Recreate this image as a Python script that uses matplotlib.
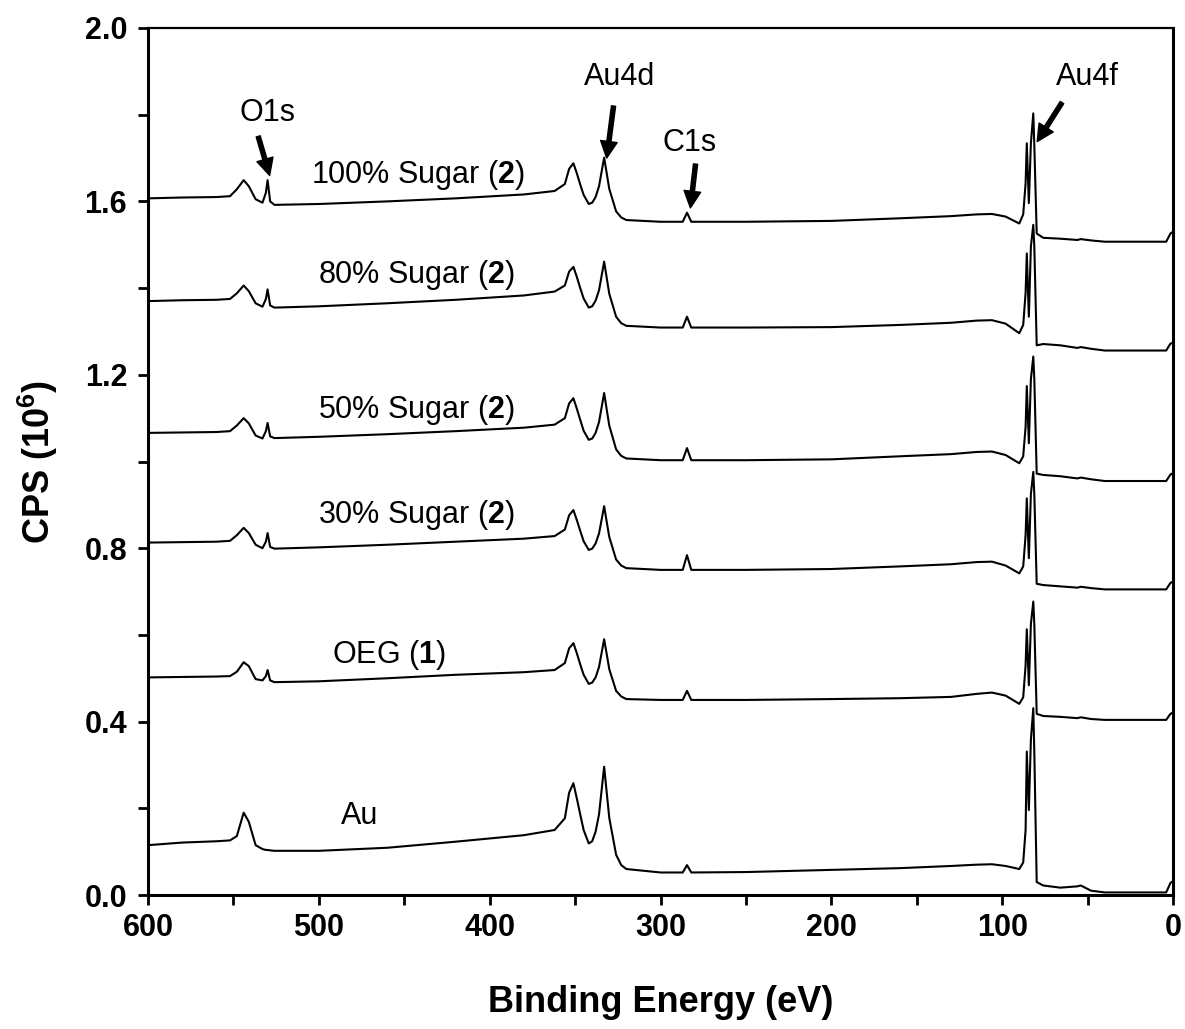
import numpy as np
import matplotlib
matplotlib.use("Agg")
import matplotlib.pyplot as plt

plt.rcParams['font.family'] = ['Liberation Sans', 'DejaVu Sans']
plt.rcParams['mathtext.fontset'] = 'custom'
plt.rcParams['mathtext.rm'] = 'Liberation Sans'
plt.rcParams['mathtext.bf'] = 'Liberation Sans:bold'

# binding energy grid (eV) shared by all spectra
energia = [600, 580, 560, 552, 548, 544, 541, 537, 533, 531,
           530, 528.5, 526, 500, 460, 420, 380, 362, 356, 353.5,
           351, 349, 347, 345, 342, 340, 338, 336, 333, 331.5,
           330, 326, 323, 320, 300, 287, 284.5, 282, 250, 200,
           160, 130, 115, 106, 98, 90, 87.7, 86.3, 85.6, 84.4,
           83.2, 81.8, 81.2, 79.8, 76, 66, 56, 54, 48, 40,
           20, 4, 1.5, 0]

# CPS (10^6) values
seker100 = [1.607, 1.609, 1.610, 1.612, 1.628, 1.649, 1.635, 1.605, 1.597, 1.620,
            1.649, 1.600, 1.592, 1.594, 1.600, 1.607, 1.616, 1.624, 1.640, 1.675,
            1.688, 1.665, 1.639, 1.615, 1.594, 1.597, 1.610, 1.635, 1.701, 1.665,
            1.629, 1.577, 1.563, 1.557, 1.553, 1.553, 1.574, 1.553, 1.553, 1.555,
            1.561, 1.566, 1.570, 1.571, 1.565, 1.549, 1.570, 1.642, 1.734, 1.596,
            1.734, 1.803, 1.730, 1.526, 1.516, 1.514, 1.511, 1.513, 1.510, 1.507,
            1.507, 1.507, 1.526, 1.530]
seker80 = [1.370, 1.372, 1.373, 1.375, 1.388, 1.406, 1.393, 1.365, 1.357, 1.375,
           1.397, 1.360, 1.355, 1.358, 1.365, 1.373, 1.383, 1.392, 1.406, 1.438,
           1.449, 1.426, 1.400, 1.376, 1.355, 1.358, 1.371, 1.395, 1.461, 1.424,
           1.387, 1.334, 1.319, 1.313, 1.309, 1.309, 1.334, 1.309, 1.309, 1.310,
           1.315, 1.320, 1.325, 1.326, 1.318, 1.296, 1.315, 1.389, 1.480, 1.334,
           1.496, 1.546, 1.496, 1.268, 1.271, 1.268, 1.262, 1.264, 1.260, 1.256,
           1.256, 1.256, 1.272, 1.274]
seker50 = [1.066, 1.067, 1.068, 1.070, 1.083, 1.100, 1.088, 1.060, 1.053, 1.070,
           1.089, 1.058, 1.054, 1.057, 1.063, 1.070, 1.078, 1.085, 1.100, 1.134,
           1.146, 1.122, 1.096, 1.071, 1.050, 1.053, 1.066, 1.091, 1.158, 1.120,
           1.083, 1.028, 1.013, 1.007, 1.003, 1.003, 1.031, 1.003, 1.003, 1.005,
           1.012, 1.017, 1.022, 1.023, 1.015, 0.996, 1.012, 1.080, 1.174, 1.042,
           1.190, 1.242, 1.190, 0.972, 0.969, 0.966, 0.961, 0.963, 0.959, 0.955,
           0.955, 0.955, 0.970, 0.973]
seker30 = [0.813, 0.814, 0.815, 0.817, 0.830, 0.847, 0.835, 0.808, 0.800, 0.815,
           0.835, 0.803, 0.799, 0.802, 0.808, 0.815, 0.822, 0.828, 0.843, 0.876,
           0.888, 0.865, 0.840, 0.816, 0.796, 0.799, 0.811, 0.834, 0.897, 0.861,
           0.826, 0.774, 0.760, 0.754, 0.750, 0.750, 0.784, 0.750, 0.750, 0.752,
           0.758, 0.763, 0.768, 0.769, 0.760, 0.742, 0.758, 0.830, 0.915, 0.777,
           0.925, 0.976, 0.925, 0.718, 0.715, 0.712, 0.709, 0.711, 0.708, 0.705,
           0.705, 0.705, 0.720, 0.723]
oeg = [0.502, 0.503, 0.504, 0.505, 0.515, 0.537, 0.528, 0.498, 0.495, 0.505,
       0.519, 0.495, 0.491, 0.493, 0.500, 0.508, 0.514, 0.519, 0.535, 0.569,
       0.581, 0.558, 0.532, 0.508, 0.487, 0.490, 0.502, 0.526, 0.590, 0.556,
       0.521, 0.471, 0.458, 0.452, 0.450, 0.450, 0.471, 0.450, 0.450, 0.452,
       0.454, 0.457, 0.464, 0.467, 0.460, 0.441, 0.456, 0.530, 0.613, 0.484,
       0.625, 0.677, 0.625, 0.418, 0.413, 0.411, 0.408, 0.410, 0.406, 0.404,
       0.404, 0.404, 0.418, 0.421]
altin = [0.115, 0.121, 0.124, 0.126, 0.136, 0.190, 0.169, 0.115, 0.106, 0.104,
         0.104, 0.103, 0.102, 0.102, 0.109, 0.123, 0.138, 0.150, 0.177, 0.236,
         0.258, 0.223, 0.186, 0.150, 0.119, 0.124, 0.146, 0.186, 0.296, 0.237,
         0.178, 0.093, 0.069, 0.060, 0.052, 0.052, 0.069, 0.052, 0.053, 0.058,
         0.062, 0.067, 0.070, 0.071, 0.067, 0.060, 0.075, 0.150, 0.331, 0.196,
         0.358, 0.431, 0.330, 0.030, 0.022, 0.017, 0.020, 0.022, 0.010, 0.006,
         0.006, 0.006, 0.028, 0.032]

spektrumlar = [seker100, seker80, seker50, seker30, oeg, altin]

# sample labels: (text, x, y)
etiketler = [("100% Sugar ($\\mathbf{2}$)", 442, 1.661),
             ("80% Sugar ($\\mathbf{2}$)", 443, 1.430),
             ("50% Sugar ($\\mathbf{2}$)", 443, 1.119),
             ("30% Sugar ($\\mathbf{2}$)", 443, 0.877),
             ("OEG ($\\mathbf{1}$)", 459, 0.554),
             ("Au", 476, 0.182)]

# peak labels: (text, text x, text y, arrow tail, arrow head)
piklar = [("O1s", 530, 1.804, (535.5, 1.750), (528.8, 1.660)),
          ("Au4d", 324, 1.887, (327.5, 1.820), (331.5, 1.700)),
          ("C1s", 283, 1.735, (279.5, 1.686), (282.5, 1.585)),
          ("Au4f", 50, 1.887, (65, 1.828), (79.5, 1.738))]

figure = plt.figure(figsize=(11.85, 10.29), dpi=100)
eksen = figure.add_axes([0.1249, 0.1302, 0.865, 0.8426])

for spektrum in spektrumlar:
    eksen.plot(energia, spektrum, color="black", lw=1.5)

for metin, x, y in etiketler:
    eksen.text(x, y, metin, fontsize=22, ha="center", va="center")

for metin, x, y, kuyruk, bas in piklar:
    eksen.text(x, y, metin, fontsize=22, ha="center", va="center")
    eksen.annotate("", xy=bas, xytext=kuyruk,
                   arrowprops=dict(width=3, headwidth=12, headlength=12,
                                   color="black", shrink=0))

eksen.set_xlim(600, 0)
eksen.set_ylim(0, 2.0)

xt = np.arange(600, -1, -50)
eksen.set_xticks(xt)
eksen.set_xticklabels([str(int(v)) if v % 100 == 0 else "" for v in xt])
yt = np.round(np.arange(0, 2.01, 0.2), 1)
eksen.set_yticks(yt)
eksen.set_yticklabels(["%.1f" % v if round(v / 0.4, 3) % 1 == 0 else "" for v in yt])

eksen.tick_params(direction="out", length=7, width=2, labelsize=22)
eksen.tick_params(axis="y", pad=8)
eksen.tick_params(axis="x", pad=6)
for etiket in eksen.get_xticklabels() + eksen.get_yticklabels():
    etiket.set_fontweight("bold")

for kenar in ["left", "bottom", "right"]:
    eksen.spines[kenar].set_linewidth(2.2)
eksen.spines["top"].set_linewidth(1.6)

eksen.set_xlabel("Binding Energy (eV)", fontsize=26, fontweight="bold")
eksen.set_ylabel("CPS (10$^{\\mathbf{6}}$)", fontsize=26, fontweight="bold")
eksen.xaxis.set_label_coords(0.5, -0.104)
eksen.yaxis.set_label_coords(-0.107, 0.5)
eksen.yaxis.label.set_va("center")

figure.savefig("out.png", dpi=100)
